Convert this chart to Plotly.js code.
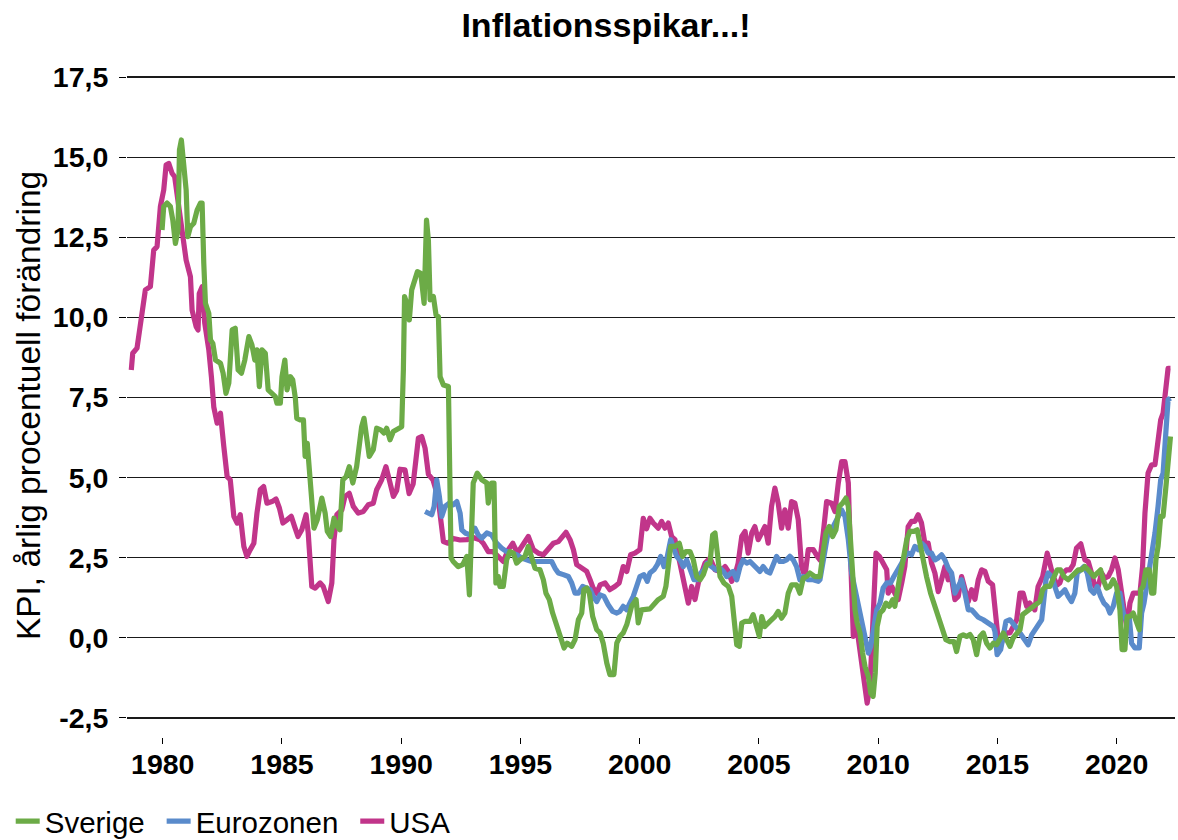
<!DOCTYPE html>
<html>
<head>
<meta charset="utf-8">
<script src="https://cdn.plot.ly/plotly-3.0.1.min.js"></script>
<style>
  html, body { margin: 0; padding: 0; background: #fff; }
  #chart { width: 1178px; height: 840px; }
  .scatterlayer .js-line { stroke-linejoin: round !important; }
</style>
</head>
<body>
<div id="chart"></div>
<script>
// [decimal year, annual CPI change %]
const sverige = [
[1979.97,12.73],[1980.04,13.46],[1980.18,13.57],[1980.32,13.46],[1980.42,13.04],[1980.53,12.31],[1980.64,12.73],
[1980.70,15.23],[1980.78,15.54],[1980.88,14.81],[1980.98,13.98],[1981.05,12.52],[1981.16,12.83],[1981.30,12.94],
[1981.44,13.35],[1981.58,13.57],[1981.65,13.57],[1981.72,11.69],[1981.79,10.44],[1981.93,10.13],[1982.00,9.3],
[1982.10,9.19],[1982.21,8.67],[1982.42,8.57],[1982.53,8.26],[1982.65,7.63],[1982.77,7.95],[1982.91,9.61],
[1983.04,9.66],[1983.16,8.36],[1983.30,8.26],[1983.44,8.67],[1983.61,9.4],[1983.74,9.14],[1983.86,8.67],
[1983.95,8.99],[1984.05,7.84],[1984.16,8.99],[1984.30,8.88],[1984.42,7.74],[1984.55,7.63],[1984.72,7.53],
[1984.79,7.32],[1984.93,7.32],[1985.00,8.15],[1985.12,8.67],[1985.21,7.74],[1985.35,8.15],[1985.45,8.05],
[1985.56,7.48],[1985.62,6.85],[1985.76,6.8],[1985.90,6.8],[1985.97,5.66],[1986.06,6.07],[1986.15,5.34],
[1986.25,4.51],[1986.34,3.42],[1986.48,3.68],[1986.67,4.36],[1986.81,3.89],[1986.90,3.32],[1987.04,3.16],
[1987.18,3.73],[1987.32,3.47],[1987.43,3.37],[1987.55,4.93],[1987.69,5.03],[1987.82,5.34],[1987.97,4.83],
[1988.13,5.34],[1988.24,6.18],[1988.34,6.59],[1988.44,6.85],[1988.55,6.18],[1988.66,5.66],[1988.83,5.87],
[1988.97,6.54],[1989.14,6.49],[1989.28,6.39],[1989.39,6.54],[1989.53,6.18],[1989.67,6.44],[1989.88,6.54],
[1990.02,6.59],[1990.09,8.36],[1990.14,10.65],[1990.23,10.44],[1990.34,9.92],[1990.44,10.86],[1990.58,11.27],
[1990.68,11.43],[1990.82,11.38],[1990.96,10.44],[1991.06,13.04],[1991.14,12.4],[1991.21,10.55],[1991.35,10.65],
[1991.46,10.08],[1991.56,10.02],[1991.63,8.15],[1991.77,7.89],[1991.98,7.84],[1992.05,3.06],[1992.09,2.49],
[1992.18,2.38],[1992.39,2.22],[1992.58,2.28],[1992.75,2.54],[1992.86,1.34],[1992.96,3.06],[1993.02,4.83],
[1993.19,5.14],[1993.38,4.93],[1993.59,4.83],[1993.65,4.2],[1993.79,4.83],[1993.89,4.83],[1993.97,1.71],
[1994.07,1.91],[1994.14,1.6],[1994.28,1.6],[1994.42,2.43],[1994.56,2.69],[1994.70,2.64],[1994.84,2.33],
[1994.98,2.43],[1995.19,2.54],[1995.33,2.85],[1995.47,2.54],[1995.61,2.17],[1995.82,2.12],[1995.96,1.81],
[1996.07,1.39],[1996.21,1.19],[1996.35,0.77],[1996.52,0.35],[1996.66,-0.01],[1996.83,-0.32],[1996.96,-0.17],
[1997.15,-0.27],[1997.29,-0.06],[1997.43,0.56],[1997.57,0.77],[1997.66,1.5],[1997.78,1.55],[1997.89,1.39],
[1998.03,0.66],[1998.20,0.25],[1998.34,0.15],[1998.47,-0.17],[1998.62,-0.79],[1998.75,-1.15],[1998.92,-1.15],
[1999.04,-0.17],[1999.17,0.04],[1999.31,0.15],[1999.46,0.41],[1999.56,0.77],[1999.66,0.98],[1999.85,1.19],
[1999.94,0.46],[2000.08,0.87],[2000.29,0.87],[2000.43,0.9],[2000.78,1.19],[2000.99,1.29],[2001.10,1.6],
[2001.20,2.43],[2001.30,2.85],[2001.48,2.85],[2001.66,2.95],[2001.80,2.54],[2001.94,2.69],[2002.11,2.69],
[2002.25,2.43],[2002.39,1.91],[2002.53,1.81],[2002.67,1.97],[2002.81,2.28],[2002.95,2.33],[2003.06,3.21],
[2003.16,3.27],[2003.25,2.54],[2003.37,1.91],[2003.53,1.71],[2003.72,1.6],[2003.86,1.29],[2003.95,0.56],
[2004.07,-0.22],[2004.18,-0.27],[2004.28,0.46],[2004.42,0.51],[2004.63,0.51],[2004.76,0.72],[2004.88,0.35],
[2005.02,0.04],[2005.12,0.66],[2005.25,0.35],[2005.46,0.51],[2005.67,0.66],[2005.81,0.82],[2005.95,0.61],
[2006.09,0.77],[2006.23,1.39],[2006.37,1.65],[2006.58,1.65],[2006.72,1.39],[2006.86,1.86],[2007.00,1.91],
[2007.14,2.02],[2007.35,1.91],[2007.56,1.91],[2007.67,2.54],[2007.81,3.27],[2007.95,3.47],[2008.09,3.16],
[2008.23,3.37],[2008.37,4.1],[2008.51,4.2],[2008.65,4.36],[2008.75,4.1],[2008.85,2.85],[2008.93,1.6],
[2009.03,0.87],[2009.12,0.46],[2009.24,0.15],[2009.35,-0.48],[2009.45,-0.9],[2009.59,-1.21],[2009.69,-1.73],
[2009.79,-1.83],[2009.88,-1.1],[2009.96,0.35],[2010.08,0.77],[2010.21,0.87],[2010.33,1.08],[2010.47,0.98],
[2010.61,1.19],[2010.70,0.98],[2010.80,1.5],[2010.91,1.91],[2011.05,2.43],[2011.20,3.06],[2011.33,3.32],
[2011.50,3.32],[2011.64,3.37],[2011.75,2.95],[2011.89,2.33],[2012.03,1.91],[2012.20,1.39],[2012.38,0.98],
[2012.56,0.66],[2012.70,0.35],[2012.84,-0.06],[2013.01,-0.12],[2013.18,-0.12],[2013.29,-0.43],[2013.43,0.04],
[2013.57,0.09],[2013.71,0.04],[2013.85,0.1],[2013.99,-0.06],[2014.13,-0.53],[2014.27,0.04],[2014.41,0.15],
[2014.55,-0.17],[2014.69,-0.32],[2014.83,-0.17],[2014.97,-0.22],[2015.11,-0.01],[2015.25,0.15],[2015.39,-0.06],
[2015.53,-0.27],[2015.66,-0.01],[2015.81,0.15],[2015.95,0.25],[2016.06,0.72],[2016.23,0.82],[2016.36,0.87],
[2016.50,0.98],[2016.65,1.08],[2016.78,1.13],[2016.90,1.5],[2017.04,1.6],[2017.20,1.6],[2017.34,1.81],
[2017.51,2.12],[2017.65,2.12],[2017.79,1.91],[2017.97,1.81],[2018.11,1.91],[2018.25,2.02],[2018.39,2.12],
[2018.53,2.12],[2018.67,2.22],[2018.81,2.12],[2018.91,2.02],[2019.05,1.91],[2019.19,2.02],[2019.33,2.12],
[2019.44,1.81],[2019.58,1.55],[2019.72,1.6],[2019.86,1.81],[2020.00,1.6],[2020.14,0.87],[2020.23,-0.37],
[2020.35,-0.37],[2020.44,0.66],[2020.56,0.66],[2020.70,0.77],[2020.84,0.46],[2020.95,0.25],[2021.01,1.5],
[2021.11,1.6],[2021.23,2.12],[2021.37,2.12],[2021.47,1.39],[2021.56,1.39],[2021.65,2.43],[2021.74,2.85],
[2021.85,3.79],[2021.95,3.79],[2022.07,4.72],[2022.16,5.34],[2022.26,6.28]
];

const eurozonen = [
[1991.00,3.94],[1991.14,3.89],[1991.28,3.84],[1991.38,4.1],[1991.49,4.93],[1991.60,4.41],[1991.70,3.79],
[1991.84,4.1],[1992.02,4.2],[1992.18,4.15],[1992.33,4.25],[1992.47,3.89],[1992.54,3.37],[1992.68,3.27],
[1992.88,3.21],[1993.09,3.42],[1993.23,3.21],[1993.38,3.11],[1993.59,3.27],[1993.79,3.21],[1994.00,2.95],
[1994.21,2.8],[1994.42,2.69],[1994.63,2.64],[1994.84,2.59],[1995.05,2.49],[1995.26,2.43],[1995.47,2.38],
[1995.68,2.38],[1995.89,2.38],[1996.10,2.38],[1996.31,2.38],[1996.45,2.17],[1996.59,2.02],[1996.80,1.97],
[1997.01,1.91],[1997.15,1.71],[1997.29,1.39],[1997.43,1.39],[1997.61,1.6],[1997.78,1.55],[1997.92,1.5],
[1998.05,1.29],[1998.20,1.13],[1998.34,1.34],[1998.50,1.29],[1998.68,1.03],[1998.87,0.82],[1999.04,0.77],
[1999.17,0.82],[1999.31,0.98],[1999.46,0.87],[1999.59,1.08],[1999.73,1.29],[1999.87,1.6],[2000.01,1.91],
[2000.18,1.97],[2000.32,1.76],[2000.43,2.02],[2000.60,2.12],[2000.74,2.28],[2000.88,2.54],[2001.02,2.22],
[2001.16,2.54],[2001.30,3.06],[2001.41,2.85],[2001.55,2.54],[2001.69,2.43],[2001.83,2.22],[2001.97,2.43],
[2002.11,2.12],[2002.28,1.81],[2002.42,1.81],[2002.56,2.02],[2002.70,2.12],[2002.83,2.33],[2003.02,2.22],
[2003.20,2.12],[2003.37,2.17],[2003.51,2.07],[2003.65,1.91],[2003.79,2.02],[2003.92,2.07],[2004.07,1.81],
[2004.21,2.22],[2004.34,2.43],[2004.49,2.33],[2004.63,2.38],[2004.76,2.28],[2004.91,2.22],[2005.04,2.07],
[2005.18,2.22],[2005.33,2.07],[2005.46,2.02],[2005.60,2.33],[2005.74,2.54],[2005.88,2.38],[2006.02,2.38],
[2006.16,2.43],[2006.30,2.54],[2006.44,2.43],[2006.58,2.22],[2006.72,1.81],[2006.86,1.91],[2007.07,1.81],
[2007.28,1.81],[2007.49,1.76],[2007.56,1.81],[2007.73,2.54],[2007.87,3.16],[2008.05,3.37],[2008.19,3.58],
[2008.33,3.79],[2008.47,3.99],[2008.61,3.79],[2008.75,3.06],[2008.89,2.02],[2009.03,1.5],[2009.17,1.08],
[2009.31,0.56],[2009.45,0.04],[2009.59,-0.48],[2009.69,-0.27],[2009.82,0.46],[2009.94,0.87],[2010.08,1.08],
[2010.21,1.55],[2010.36,1.71],[2010.52,1.71],[2010.66,1.91],[2010.80,2.07],[2010.99,2.33],[2011.12,2.54],
[2011.26,2.64],[2011.40,2.59],[2011.54,2.85],[2011.68,2.75],[2011.82,2.95],[2011.96,2.85],[2012.10,2.64],
[2012.24,2.64],[2012.38,2.43],[2012.52,2.49],[2012.66,2.59],[2012.80,2.43],[2012.94,2.17],[2013.08,2.02],
[2013.22,1.39],[2013.36,1.6],[2013.50,1.81],[2013.64,1.39],[2013.78,0.87],[2013.92,0.87],[2014.06,0.77],
[2014.20,0.64],[2014.41,0.56],[2014.62,0.46],[2014.83,0.35],[2014.90,0.2],[2014.99,-0.53],[2015.14,-0.37],
[2015.25,0.04],[2015.36,0.51],[2015.53,0.56],[2015.66,0.41],[2015.81,0.3],[2015.95,0.15],[2016.11,-0.01],
[2016.29,-0.22],[2016.44,0.09],[2016.57,0.25],[2016.71,0.35],[2016.86,0.56],[2016.95,1.19],[2017.04,1.81],
[2017.13,2.02],[2017.28,1.91],[2017.41,1.6],[2017.55,1.29],[2017.69,1.39],[2017.83,1.5],[2017.97,1.29],
[2018.11,1.13],[2018.25,1.39],[2018.35,2.02],[2018.49,2.12],[2018.63,2.22],[2018.77,2.02],[2018.91,1.5],
[2019.05,1.39],[2019.19,1.6],[2019.33,1.29],[2019.47,1.08],[2019.61,0.98],[2019.72,0.77],[2019.86,0.98],
[2020.00,1.39],[2020.14,1.39],[2020.28,0.77],[2020.42,0.51],[2020.53,0.66],[2020.63,-0.17],[2020.77,-0.32],
[2020.95,-0.32],[2021.05,0.77],[2021.15,1.08],[2021.26,1.6],[2021.40,2.02],[2021.51,2.64],[2021.61,3.27],
[2021.74,4.1],[2021.85,4.93],[2021.95,5.14],[2022.07,6.49],[2022.16,7.43],[2022.26,7.48]
];

const usa = [
[1978.68,8.36],[1978.74,8.88],[1978.92,9.04],[1979.06,9.82],[1979.27,10.86],[1979.48,10.96],[1979.62,12.1],
[1979.76,12.21],[1979.90,13.46],[1980.04,13.98],[1980.14,14.76],[1980.25,14.81],[1980.39,14.5],[1980.50,14.39],
[1980.81,12.73],[1980.98,11.79],[1981.16,11.27],[1981.23,10.23],[1981.40,9.71],[1981.48,9.61],[1981.53,10.75],
[1981.65,10.96],[1981.76,9.82],[1981.93,8.99],[1982.04,8.15],[1982.14,7.2],[1982.28,6.7],[1982.42,7.01],
[1982.56,5.97],[1982.70,5.03],[1982.83,4.93],[1982.98,3.79],[1983.12,3.58],[1983.25,3.84],[1983.40,2.85],
[1983.53,2.54],[1983.67,2.75],[1983.82,2.95],[1983.95,3.89],[1984.09,4.62],[1984.23,4.72],[1984.37,4.2],
[1984.58,4.25],[1984.75,4.33],[1984.89,4.05],[1985.04,3.58],[1985.21,3.68],[1985.39,3.79],[1985.53,3.47],
[1985.67,3.16],[1985.83,3.37],[1986.01,3.84],[1986.10,3.27],[1986.25,1.6],[1986.39,1.55],[1986.60,1.71],
[1986.73,1.6],[1986.94,1.13],[1987.09,1.71],[1987.18,3.06],[1987.30,3.84],[1987.51,3.99],[1987.64,4.41],
[1987.82,4.51],[1987.99,4.1],[1988.20,3.89],[1988.41,3.94],[1988.62,4.15],[1988.83,4.2],[1988.97,4.62],
[1989.18,4.93],[1989.36,5.34],[1989.50,4.93],[1989.67,4.41],[1989.81,4.6],[1989.95,5.26],[1990.16,5.24],
[1990.33,4.5],[1990.50,4.8],[1990.72,6.23],[1990.86,6.28],[1991.00,5.92],[1991.14,5.1],[1991.33,4.93],
[1991.54,4.4],[1991.77,3.0],[1991.96,2.95],[1992.18,3.1],[1992.47,3.05],[1992.75,3.06],[1993.02,3.13],
[1993.30,3.06],[1993.44,2.95],[1993.65,2.69],[1993.86,2.69],[1994.07,2.54],[1994.28,2.38],[1994.49,2.75],
[1994.68,2.95],[1994.87,2.64],[1995.12,2.9],[1995.33,3.16],[1995.54,2.75],[1995.75,2.64],[1995.96,2.59],
[1996.17,2.8],[1996.38,2.95],[1996.59,3.0],[1996.73,3.11],[1996.91,3.29],[1997.08,3.06],[1997.22,2.75],
[1997.36,2.28],[1997.57,2.17],[1997.78,2.07],[1997.92,1.81],[1998.05,1.55],[1998.20,1.39],[1998.34,1.65],
[1998.55,1.71],[1998.75,1.5],[1998.96,1.6],[1999.14,1.71],[1999.31,2.22],[1999.46,2.07],[1999.62,2.59],
[1999.80,2.64],[2000.01,2.75],[2000.15,3.73],[2000.29,3.4],[2000.43,3.73],[2000.57,3.58],[2000.78,3.42],
[2000.92,3.63],[2001.06,3.42],[2001.20,3.58],[2001.34,3.16],[2001.48,3.06],[2001.62,2.54],[2001.76,2.02],
[2001.90,1.5],[2002.04,1.08],[2002.18,1.6],[2002.32,1.19],[2002.46,1.71],[2002.60,2.02],[2002.74,2.33],
[2002.95,2.49],[2003.16,2.12],[2003.37,2.07],[2003.58,2.22],[2003.72,2.07],[2003.86,1.76],[2004.00,1.97],
[2004.13,2.33],[2004.28,3.16],[2004.42,3.32],[2004.55,2.64],[2004.70,3.27],[2004.83,3.47],[2004.97,3.06],
[2005.12,3.27],[2005.25,3.47],[2005.39,2.95],[2005.53,4.1],[2005.67,4.67],[2005.81,4.2],[2005.95,3.42],
[2006.09,3.99],[2006.23,3.42],[2006.37,4.25],[2006.51,4.2],[2006.65,3.68],[2006.79,2.22],[2006.93,1.91],
[2007.07,2.75],[2007.28,2.75],[2007.45,2.54],[2007.56,2.43],[2007.70,3.27],[2007.84,4.25],[2008.05,4.2],
[2008.19,3.94],[2008.33,4.83],[2008.47,5.5],[2008.61,5.5],[2008.75,4.83],[2008.82,3.06],[2008.89,1.08],
[2008.96,0.04],[2009.10,0.35],[2009.24,-0.48],[2009.35,-1.1],[2009.45,-1.52],[2009.54,-2.04],[2009.66,-1.52],
[2009.79,0.35],[2009.91,2.64],[2010.05,2.54],[2010.21,2.28],[2010.36,2.12],[2010.42,1.39],[2010.57,1.6],
[2010.70,1.39],[2010.84,1.19],[2010.99,1.71],[2011.12,2.22],[2011.26,3.47],[2011.40,3.63],[2011.54,3.63],
[2011.68,3.84],[2011.82,3.58],[2011.96,2.95],[2012.10,2.95],[2012.24,2.33],[2012.38,2.02],[2012.52,1.44],
[2012.66,1.81],[2012.80,2.22],[2012.94,1.81],[2013.08,1.86],[2013.22,1.19],[2013.36,1.29],[2013.50,1.91],
[2013.64,1.5],[2013.78,1.13],[2013.92,1.5],[2014.06,1.2],[2014.20,1.81],[2014.34,2.12],[2014.48,2.07],
[2014.62,1.76],[2014.80,1.65],[2014.94,0.77],[2015.08,-0.37],[2015.22,-0.06],[2015.39,0.15],[2015.53,0.15],
[2015.66,0.35],[2015.81,0.56],[2015.95,1.39],[2016.08,1.39],[2016.23,0.98],[2016.36,1.08],[2016.57,0.87],
[2016.71,1.6],[2016.90,1.91],[2016.99,2.33],[2017.09,2.64],[2017.20,2.33],[2017.34,1.91],[2017.51,1.65],
[2017.62,1.71],[2017.76,2.02],[2017.90,2.12],[2018.04,2.12],[2018.18,2.28],[2018.32,2.8],[2018.50,2.93],
[2018.67,2.43],[2018.81,2.38],[2018.95,2.02],[2019.09,1.6],[2019.23,1.6],[2019.37,2.02],[2019.51,1.86],
[2019.65,1.91],[2019.79,2.12],[2019.93,2.49],[2020.07,2.12],[2020.21,1.34],[2020.35,0.72],[2020.44,0.25],
[2020.56,1.08],[2020.70,1.39],[2020.84,1.39],[2020.98,1.39],[2021.09,2.22],[2021.19,3.89],[2021.32,5.14],
[2021.47,5.4],[2021.61,5.4],[2021.74,6.18],[2021.85,6.8],[2021.95,7.01],[2022.07,7.74],[2022.16,8.41],[2022.26,8.41]
];

const seriesNames = ['Sverige', 'Eurozonen', 'USA'];
const seriesColors = ['#6CAB47', '#5A8BCB', '#C1358A'];
const xTickVals = [1980, 1985, 1990, 1995, 2000, 2005, 2010, 2015, 2020];
const xTickText = ['1980', '1985', '1990', '1995', '2000', '2005', '2010', '2015', '2020'];
const yTickVals = [-2.5, 0, 2.5, 5, 7.5, 10, 12.5, 15, 17.5];
const yTickText = ['-2,5', '0,0', '2,5', '5,0', '7,5', '10,0', '12,5', '15,0', '17,5'];

const allSeries = [sverige, eurozonen, usa];
// draw USA first, Sverige on top
const order = [2, 1, 0];
const traces = order.map(i => ({
  type: 'scatter',
  mode: 'lines',
  name: seriesNames[i] + '\u2009',
  x: allSeries[i].map(p => p[0]),
  y: allSeries[i].map(p => p[1]),
  line: { color: seriesColors[i], width: 5.2 },
  hoverinfo: 'skip'
}));

const font = "'Liberation Sans', Arial, sans-serif";

const layout = {
  width: 1178,
  height: 840,
  margin: { l: 127, r: 3, t: 74, b: 103 },
  paper_bgcolor: '#ffffff',
  plot_bgcolor: '#ffffff',
  font: { family: font, color: '#000' },
  title: {
    text: '<b>Inflationsspikar...!</b>',
    font: { family: font, size: 34, color: '#000' },
    xref: 'container', yref: 'container',
    x: 0.5144, y: 0.970, xanchor: 'center', yanchor: 'middle'
  },
  xaxis: {
    range: [1978.5, 2022.45],
    tickvals: xTickVals,
    ticktext: xTickText,
    ticks: 'outside',
    ticklen: 6,
    tickcolor: '#000',
    tickwidth: 1,
    showgrid: false,
    zeroline: false,
    showline: false,
    ticklabelstandoff: -4,
    tickfont: { family: font, size: 28.5, color: '#000', weight: 'bold' }
  },
  yaxis: {
    range: [-3.1, 17.6],
    tickvals: yTickVals,
    ticktext: yTickText,
    ticks: 'outside',
    ticklen: 7,
    tickcolor: '#000',
    tickwidth: 1,
    showgrid: true,
    gridcolor: '#1a1a1a',
    gridwidth: 1.5,
    zeroline: false,
    showline: false,
    ticklabelstandoff: 5,
    tickfont: { family: font, size: 28.5, color: '#000', weight: 'bold' },
    title: {
      text: 'KPI, årlig procentuell förändring',
      font: { family: font, size: 33.5, color: '#000' },
      standoff: 2
    }
  },
  showlegend: true,
  legend: {
    orientation: 'h',
    traceorder: 'reversed',
    xref: 'container', yref: 'container',
    x: 0.004, y: 0.022, xanchor: 'left', yanchor: 'middle',
    font: { family: font, size: 29.5, color: '#000' },
    bgcolor: 'rgba(0,0,0,0)',
    itemwidth: 30,
    tracegroupgap: 0
  }
};

Plotly.newPlot('chart', traces, layout, { displayModeBar: false, staticPlot: true }).then(gd => {
  // legend line sample: shorter, like the reference
  gd.querySelectorAll('.legend .legendlines path').forEach(p => p.setAttribute('d', 'M11,0h24'));
});
</script>
</body>
</html>
